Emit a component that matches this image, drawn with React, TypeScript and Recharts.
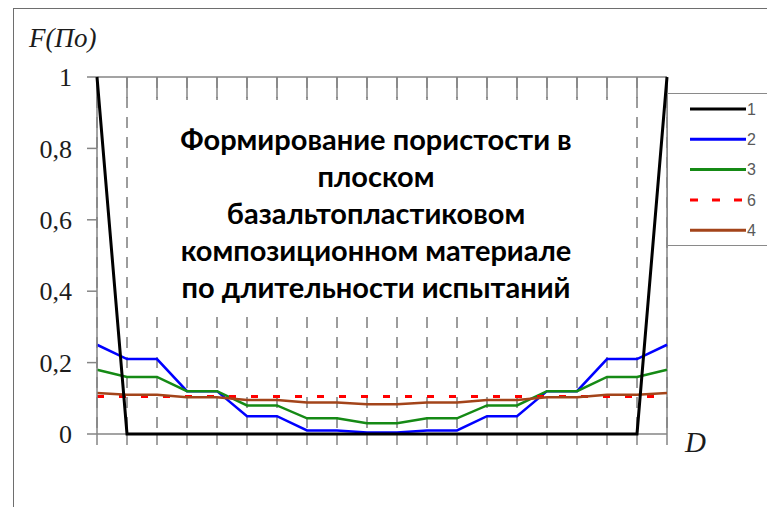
import React from 'react';
import { LineChart, Line, XAxis, YAxis, CartesianGrid, ReferenceLine } from 'recharts';

// ---- data ----
const xIndex = [0, 1, 2, 3, 4, 5, 6, 7, 8, 9, 10, 11, 12, 13, 14, 15, 16, 17, 18, 19];
const series1 = [1, 0, 0, 0, 0, 0, 0, 0, 0, 0, 0, 0, 0, 0, 0, 0, 0, 0, 0, 1];
const series2 = [0.25, 0.21, 0.21, 0.12, 0.12, 0.05, 0.05, 0.01, 0.01, 0.004, 0.004, 0.01, 0.01, 0.05, 0.05, 0.12, 0.12, 0.21, 0.21, 0.25];
const series3 = [0.18, 0.16, 0.16, 0.12, 0.12, 0.08, 0.08, 0.044, 0.044, 0.03, 0.03, 0.044, 0.044, 0.08, 0.08, 0.12, 0.12, 0.16, 0.16, 0.18];
const series6 = [0.105, 0.105, 0.105, 0.105, 0.105, 0.105, 0.105, 0.105, 0.105, 0.105, 0.105, 0.105, 0.105, 0.105, 0.105, 0.105, 0.105, 0.105, 0.105, 0.105];
const series4 = [0.115, 0.11, 0.11, 0.103, 0.103, 0.095, 0.095, 0.088, 0.088, 0.083, 0.083, 0.088, 0.088, 0.095, 0.095, 0.103, 0.103, 0.11, 0.11, 0.115];
const yTicks = [0, 0.2, 0.4, 0.6, 0.8, 1];
const yTickLabels = ['0', '0,2', '0,4', '0,6', '0,8', '1'];
const legendKeys = ['s1', 's2', 's3', 's6', 's4'];
const legendLabels = ['1', '2', '3', '6', '4'];
const titleLines = [
  'Формирование пористости в',
  'плоском',
  'базальтопластиковом',
  'композиционном материале',
  'по длительности испытаний',
];
const yAxisTitle = 'F(По)';
const xAxisTitle = 'D';

const data = xIndex.map((x, i) => ({
  x,
  s1: series1[i],
  s2: series2[i],
  s3: series3[i],
  s6: series6[i],
  s4: series4[i],
}));

const styles: Record<string, { color: string; width: number; dash?: string }> = {
  s1: { color: '#000000', width: 3 },
  s2: { color: '#0000ff', width: 2.5 },
  s3: { color: '#158a15', width: 2.5 },
  s6: { color: '#ff0000', width: 3, dash: '7 15' },
  s4: { color: '#a3441a', width: 2.5 },
};

const AXIS = '#858585';
const serif = '"Liberation Serif", "DejaVu Serif", serif';

export default function App() {
  return (
    <div style={{ position: 'fixed', left: 0, top: 0, width: 767, height: 507, overflow: 'hidden', background: '#fff' }}>
      <div
        style={{
          position: 'absolute',
          left: 13,
          top: 8,
          width: 900,
          height: 700,
          border: '1.5px solid #6e6e6e',
          boxSizing: 'border-box',
        }}
      />
      <div style={{ position: 'absolute', left: 0, top: 0 }}>
        <LineChart width={767} height={507} data={data} margin={{ top: 77, right: 100, bottom: 43, left: 0 }}>
          <CartesianGrid horizontal={false} stroke="#3a3a3a" strokeDasharray="11 9" />
          <XAxis
            dataKey="x"
            type="number"
            domain={[0, 19]}
            ticks={xIndex}
            tickSize={11}
            tickFormatter={() => ''}
            stroke={AXIS}
            tickLine={{ stroke: AXIS, strokeWidth: 1.5 }}
            axisLine={false}
            height={30}
          />
          <XAxis
            xAxisId="top"
            orientation="top"
            mirror
            dataKey="x"
            type="number"
            domain={[0, 19]}
            ticks={xIndex}
            tickSize={21}
            tickFormatter={() => ''}
            tickLine={{ stroke: AXIS, strokeWidth: 1.5 }}
            axisLine={{ stroke: AXIS, strokeWidth: 1.5 }}
          />
          <YAxis
            type="number"
            domain={[0, 1]}
            ticks={yTicks}
            width={97}
            tickSize={10}
            tickMargin={15}
            tickFormatter={(v: number) => yTickLabels[yTicks.indexOf(v)] ?? ''}
            tick={{ fill: '#1c1c1c', fontFamily: serif, fontSize: 26 }}
            tickLine={{ stroke: AXIS, strokeWidth: 1.5 }}
            axisLine={{ stroke: AXIS, strokeWidth: 1.5 }}
          />
          <ReferenceLine x={19} stroke={AXIS} strokeWidth={1.5} />
          <ReferenceLine y={0} stroke={AXIS} strokeWidth={1.5} />
          {['s2', 's3', 's6', 's4', 's1'].map((k) => (
            <Line
              key={k}
              dataKey={k}
              type="linear"
              stroke={styles[k].color}
              strokeWidth={styles[k].width}
              strokeDasharray={styles[k].dash}
              dot={false}
              activeDot={false}
              isAnimationActive={false}
              {...(k === 's1' ? { zIndex: 900 } : {})}
            />
          ))}
        </LineChart>
      </div>

      {/* title box */}
      <div
        style={{
          position: 'absolute',
          left: 140,
          top: 100,
          width: 485,
          height: 216,
          background: '#fff',
        }}
      />
      <div
        style={{
          position: 'absolute',
          left: 100,
          top: 120,
          width: 552,
          textAlign: 'center',
          fontFamily: 'Lato, "Open Sans", sans-serif',
          fontWeight: 700,
          fontSize: 29,
          lineHeight: '37px',
          color: '#000',
          whiteSpace: 'nowrap',
        }}
      >
        {titleLines.map((t, i) => (
          <div key={i}>{t}</div>
        ))}
      </div>

      {/* legend */}
      <div
        style={{
          position: 'absolute',
          left: 667,
          top: 93,
          width: 130,
          height: 153,
          border: '1px solid #8a8a8a',
          background: '#fff',
          boxSizing: 'border-box',
        }}
      >
        <svg width={130} height={153} style={{ position: 'absolute', left: -1, top: -1 }}>
          {legendKeys.map((k, i) => {
            const y = 16 + i * 30.3;
            return (
              <g key={k}>
                <line
                  x1={23}
                  x2={79}
                  y1={y}
                  y2={y}
                  stroke={styles[k].color}
                  strokeWidth={3}
                  strokeDasharray={styles[k].dash ? '8 14' : undefined}
                />
                <text x={80} y={y} dy="0.36em" fontFamily='"Liberation Sans", Arial, sans-serif' fontSize={16} fill="#595959">
                  {legendLabels[i]}
                </text>
              </g>
            );
          })}
        </svg>
      </div>

      {/* axis titles */}
      <div
        style={{
          position: 'absolute',
          left: 29,
          top: 20,
          fontFamily: serif,
          fontStyle: 'italic',
          fontSize: 27,
          lineHeight: '36px',
          color: '#1c1c1c',
        }}
      >
        {yAxisTitle}
      </div>
      <div
        style={{
          position: 'absolute',
          left: 685,
          top: 423,
          fontFamily: serif,
          fontStyle: 'italic',
          fontSize: 29,
          lineHeight: '38px',
          color: '#1c1c1c',
        }}
      >
        {xAxisTitle}
      </div>
    </div>
  );
}
